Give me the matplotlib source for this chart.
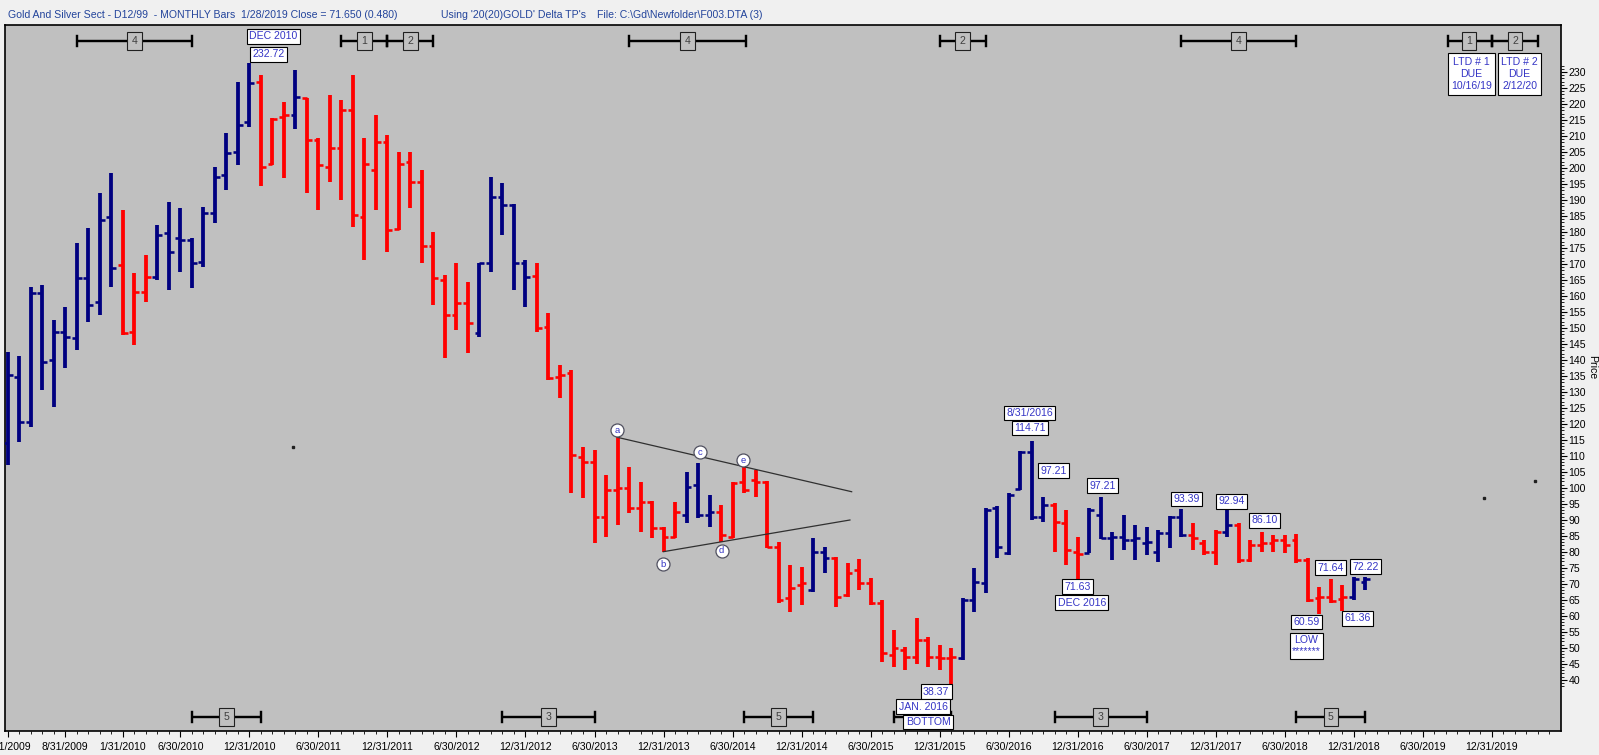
import matplotlib
matplotlib.use("Agg")
import matplotlib.pyplot as plt
import matplotlib.transforms as mtransforms
from matplotlib import font_manager

_names = {f.name for f in font_manager.fontManager.ttflist}
FONT = "Liberation Sans Narrow" if "Liberation Sans Narrow" in _names else "Liberation Sans"
NARROW = FONT == "Liberation Sans Narrow"
plt.rcParams["font.family"] = [FONT, "DejaVu Sans"]
FS = 8.5 if NARROW else 7.6

# ---------------- data (monthly bars, first bar = March 2009) ----------------
opens = [113.9, 134.8, 120.7, 160.8, 140.0, 148.8, 146.8, 165.5, 158.2, 184.8,
         169.7, 148.8, 161.3, 166.0, 179.6, 178.0, 177.5, 170.7, 185.8, 197.8,
         205.1, 214.5, 227.0, 201.4, 215.8, 216.6, 221.8, 208.7, 200.4, 206.2,
         218.1, 184.8, 199.4, 208.2, 180.8, 202.0, 195.7, 175.6, 165.0, 154.0,
         157.7, 148.3, 170.2, 191.0, 188.4, 170.2, 166.2, 150.4, 134.8, 135.8,
         109.8, 108.2, 91.0, 99.3, 100.0, 93.6, 95.7, 87.4, 84.75, 91.5,
         100.9, 91.5, 92.6, 84.75, 101.9, 102.5, 101.9, 81.6, 65.5, 69.6,
         68.1, 80.1, 78.0, 66.5, 74.3, 70.2, 63.9, 47.8, 49.3, 47.2,
         52.4, 47.2, 46.7, 46.7, 65.0, 70.2, 93.6, 79.5, 99.8, 111.3,
         91.0, 94.6, 88.9, 80.0, 79.7, 91.5, 84.2, 84.7, 83.7, 82.7,
         80.1, 85.8, 91.0, 85.3, 82.7, 80.1, 86.3, 88.4, 77.45, 82.1,
         82.65, 83.7, 83.7, 77.45, 65.5, 66.0, 65.2, 66.0, 70.5]
highs = [142.6, 141.2, 162.9, 163.4, 152.5, 156.6, 176.4, 181.1, 192.1, 198.5,
         186.9, 167.1, 172.8, 182.2, 189.5, 187.4, 178.0, 187.9, 200.4, 210.8,
         227.0, 232.72, 229.1, 215.5, 220.7, 230.6, 222.0, 209.3, 222.8, 221.2,
         229.1, 209.3, 216.6, 210.3, 205.1, 205.1, 199.4, 180.1, 166.5, 170.2,
         164.5, 170.4, 197.1, 195.2, 188.6, 171.2, 170.2, 154.6, 138.4, 136.8,
         112.9, 111.8, 104.0, 115.8, 106.6, 101.9, 96.0, 87.8, 95.7, 105.1,
         107.9, 97.8, 94.6, 101.9, 107.1, 105.6, 102.2, 83.2, 75.9, 75.4,
         84.2, 81.6, 78.3, 76.4, 77.7, 71.7, 65.0, 55.6, 50.4, 59.2,
         53.3, 50.9, 49.8, 65.5, 74.85, 93.6, 94.3, 98.3, 111.6, 114.71,
         97.21, 95.2, 93.1, 84.7, 93.6, 97.21, 86.3, 91.5, 88.4, 87.9,
         86.8, 91.3, 93.39, 88.9, 83.7, 86.8, 92.94, 88.9, 83.7, 86.10,
         85.3, 85.3, 85.6, 77.97, 69.1, 71.64, 69.6, 72.0, 72.22]
lows = [107.2, 114.4, 119.1, 130.6, 125.4, 137.4, 143.1, 152.0, 154.0, 162.9,
        147.8, 144.7, 158.2, 165.0, 161.9, 167.6, 162.4, 169.1, 182.7, 193.1,
        200.9, 212.9, 194.4, 200.9, 196.8, 212.1, 192.1, 186.9, 195.7, 190.0,
        181.7, 171.2, 186.9, 173.8, 180.6, 187.4, 170.2, 157.2, 140.5, 149.4,
        142.1, 147.3, 167.6, 179.0, 161.9, 156.6, 148.8, 133.7, 128.0, 98.3,
        96.7, 82.7, 84.75, 88.4, 92.0, 86.3, 84.2, 80.1, 84.2, 88.9,
        90.5, 87.9, 83.2, 84.2, 98.3, 97.3, 81.1, 63.9, 61.3, 63.4,
        67.6, 73.3, 62.9, 66.0, 68.1, 63.4, 45.7, 44.1, 43.1, 45.1,
        44.1, 43.1, 38.37, 46.2, 61.3, 67.0, 78.0, 79.0, 99.3, 89.95,
        89.4, 80.1, 75.9, 71.63, 79.5, 83.9, 77.5, 80.6, 77.5, 79.0,
        76.9, 81.1, 84.7, 80.6, 79.0, 75.9, 84.7, 76.4, 76.9, 80.1,
        80.1, 79.5, 76.4, 64.4, 60.59, 63.9, 61.36, 65.0, 68.1]
closes = [135.3, 120.7, 160.8, 139.5, 148.8, 147.3, 165.5, 157.2, 183.7, 168.6,
          148.3, 161.3, 166.0, 179.0, 173.8, 177.5, 170.2, 185.8, 197.3, 204.6,
          213.4, 226.5, 200.4, 215.2, 216.6, 222.3, 208.7, 200.9, 206.2, 218.1,
          185.3, 201.4, 208.2, 180.6, 201.4, 195.7, 175.6, 165.5, 154.0, 157.7,
          151.4, 170.2, 191.0, 188.4, 170.2, 166.0, 149.9, 134.2, 135.3, 110.3,
          108.2, 91.0, 99.3, 100.0, 93.6, 95.7, 87.4, 84.75, 92.6, 100.4,
          91.5, 92.6, 85.3, 101.5, 99.3, 101.9, 81.6, 65.0, 68.6, 70.2,
          80.1, 78.0, 66.0, 73.3, 70.2, 63.9, 48.3, 49.8, 47.2, 52.4,
          47.2, 46.7, 47.0, 65.0, 70.7, 93.1, 81.6, 97.8, 111.3, 91.0,
          94.6, 89.4, 80.6, 79.3, 93.1, 84.2, 84.7, 83.7, 84.2, 83.2,
          85.8, 91.0, 85.3, 84.2, 80.1, 86.3, 88.4, 77.45, 82.1, 82.65,
          83.7, 82.1, 77.45, 64.95, 66.0, 64.7, 66.0, 71.5, 71.65]
# B = blue (up-trend) bar, R = red (down-trend) bar
trend = list("BBBBBBBBBBRRRBBBBBBBBBRRRBRRRRRRRRRRRRRRRBBBBBRRRRRRRRRRRRRBBB"
             "RRRRRRRRBBRRRRRRRRRRRBBBBBBBBRRRBBBBBBBBBRRRBRRRRRRRRRRBB")

x_tick_months = [0, 5, 10, 15, 21, 27, 33, 39, 45, 51, 57, 63, 69, 75, 81, 87,
                 93, 99, 105, 111, 117, 123, 129]
x_tick_labels = ["3/31/2009", "8/31/2009", "1/31/2010", "6/30/2010", "12/31/2010",
                 "6/30/2011", "12/31/2011", "6/30/2012", "12/31/2012", "6/30/2013",
                 "12/31/2013", "6/30/2014", "12/31/2014", "6/30/2015", "12/31/2015",
                 "6/30/2016", "12/31/2016", "6/30/2017", "12/31/2017", "6/30/2018",
                 "12/31/2018", "6/30/2019", "12/31/2019"]
price_ticks = list(range(40, 231, 5))

title_main = "Gold And Silver Sect - D12/99  - MONTHLY Bars  1/28/2019 Close = 71.650 (0.480)"
title_using = "Using '20(20)GOLD' Delta TP's"
title_file = "File: C:\\Gd\\Newfolder\\F003.DTA (3)"

# price labels: (text, bar month, price, offset px x, offset px y)
price_labels = [("DEC 2010", 21, 232.72, 24, -27), ("232.72", 21, 232.72, 19, -9),
                ("8/31/2016", 89, 114.71, -2, -28), ("114.71", 89, 114.71, -2, -13),
                ("97.21", 90, 97.21, 10, -26), ("97.21", 95, 97.21, 2, -11),
                ("93.39", 102, 93.39, 5, -10), ("92.94", 106, 92.94, 4, -9),
                ("86.10", 109, 86.10, 3, -12), ("71.63", 93, 71.63, 0, 8),
                ("DEC 2016", 93, 71.63, 4, 24), ("38.37", 82, 38.37, -15, 6.5),
                ("JAN. 2016", 82, 38.37, -28, 21.5), ("BOTTOM", 82, 38.37, -23, 37),
                ("60.59", 114, 60.59, -13, 8), ("LOW\n*******", 114, 60.59, -13, 32),
                ("71.64", 115, 71.64, 0, -11), ("61.36", 116, 61.36, 15, 7),
                ("72.22", 118, 72.22, 0, -10)]

# cycle brackets: (start month, end month, box month, number)
top_cycles = [(6, 16, 11, "4"), (29, 33, 31, "1"), (33, 37, 35, "2"),
              (54, 64.2, 59.1, "4"), (81, 85, 83, "2"), (102, 112, 107, "4"),
              (125.2, 129, 127, "1"), (129, 133, 131, "2")]
bottom_cycles = [(16, 22, 19, "5"), (43, 51, 47, "3"), (64, 70, 67, "5"),
                 (77, 82, None, ""), (91, 99, 95, "3"), (112, 118, 115, "5")]
ltd_notes = [(127.2, "LTD # 1\nDUE\n10/16/19"), (131.4, "LTD # 2\nDUE\n2/12/20")]

# triangle (a-b-c-d-e)
tri_upper = ([52.98, 73.35], [115.81, 98.80])
tri_lower = ([56.98, 73.2], [80.05, 89.96])
tri_points = [("a", 52.98, 118.0), ("b", 56.98, 76.1), ("c", 60.2, 111.1),
              ("d", 62.05, 80.3), ("e", 63.93, 108.6)]
stray_marks = [(24.8, 112.9), (132.7, 102.2), (128.3, 96.9)]

# ---------------- drawing ----------------
W, H = 1599, 755
fig = plt.figure(figsize=(W / 100, H / 100), dpi=100, facecolor="#F0F0F0")
ax = fig.add_axes([5 / W, (H - 731) / H, 1556 / W, 706 / H])
ax.set_facecolor("#C0C0C0")
ax.set_xlim(-0.235, 135.0)
ax.set_ylim(24.0, 244.7)

PX = 0.72  # points per pixel at dpi 100
col = {"B": "#000080", "R": "#FF0000"}
n = len(highs)
for i in range(n):
    c = col[trend[i]]
    ax.vlines(i, lows[i], highs[i], color=c, lw=3.8 * PX, zorder=3)
    ax.hlines(opens[i], i - 0.42, i, color=c, lw=2.6 * PX, zorder=3)
    ax.hlines(closes[i], i, i + 0.42, color=c, lw=2.6 * PX, zorder=3)

# triangle
ax.plot(*tri_upper, color="#303030", lw=0.9, zorder=4)
ax.plot(*tri_lower, color="#303030", lw=0.9, zorder=4)
for lab, tx, ty in tri_points:
    ax.plot(tx, ty, "o", ms=13 * PX, mfc="white", mec="#505060", mew=0.9, zorder=5)
    ax.text(tx, ty, lab, ha="center", va="center", fontsize=6.8, color="#3535C5", zorder=6)
for sx, sy in stray_marks:
    ax.plot(sx, sy, "s", ms=1.6, color="#202020", zorder=3)

# price labels
for txt, bi, pr, dx, dy in price_labels:
    ax.annotate(txt, xy=(bi, pr), xytext=(dx * PX, -dy * PX), textcoords="offset points",
                ha="center", va="center", fontsize=FS, color="#3535C5", zorder=8,
                linespacing=1.15,
                bbox=dict(boxstyle="square,pad=0.22", fc="white", ec="black", lw=0.8))

# cycle brackets
blend = mtransforms.blended_transform_factory(ax.transData, ax.transAxes)
cap = 5 / 706

def draw_cycles(cycles, yf):
    for x0, x1, xb, lab in cycles:
        ax.plot([x0, x1], [yf, yf], color="black", lw=2.4 * PX, transform=blend,
                zorder=2, solid_capstyle="butt")
        for xc in (x0, x1):
            ax.plot([xc, xc], [yf - cap, yf + cap], color="black", lw=2.4 * PX,
                    transform=blend, zorder=2)
        if xb is not None:
            ax.text(xb, yf, lab, transform=blend, ha="center", va="center", fontsize=FS,
                    color="#404040", zorder=2.5,
                    bbox=dict(boxstyle="square,pad=0.42", fc="#C0C0C0", ec="#202020", lw=0.8))

draw_cycles(top_cycles, (731 - 41) / 706)
draw_cycles(bottom_cycles, (731 - 717) / 706)

for xl, txt in ltd_notes:
    ax.text(xl, (731 - 74) / 706, txt, transform=blend, ha="center", va="center",
            fontsize=FS, color="#3535C5", linespacing=1.3, zorder=8,
            bbox=dict(boxstyle="square,pad=0.3", fc="white", ec="black", lw=0.8))

# axes styling
for s in ax.spines.values():
    s.set_color("black")
    s.set_linewidth(1.2)
ax.yaxis.tick_right()
ax.set_yticks(price_ticks)
ax.set_yticks(list(range(38, 233)), minor=True)
ax.tick_params(axis="y", which="major", direction="out", length=4, width=0.8,
               labelsize=FS, pad=1.5, colors="black")
ax.tick_params(axis="y", which="minor", direction="out", length=2, width=0.6)
ax.set_xticks(x_tick_months)
ax.set_xticklabels(x_tick_labels)
ax.set_xticks(list(range(0, 135)), minor=True)
ax.tick_params(axis="x", which="major", direction="out", length=4, width=0.8,
               labelsize=FS, pad=4, colors="black")
ax.tick_params(axis="x", which="minor", direction="out", length=2.5, width=0.6)

fig.text(1592 / W, 1 - 367 / H, "Price", rotation=270, ha="center", va="center",
         fontsize=FS, color="black")

ty = 1 - 14.5 / H
fig.text(8 / W, ty, title_main, ha="left", va="center", fontsize=FS, color="#23449B")
fig.text(441 / W, ty, title_using, ha="left", va="center", fontsize=FS, color="#23449B")
fig.text(597 / W, ty, title_file, ha="left", va="center", fontsize=FS, color="#23449B")

fig.savefig("out.png", dpi=100, facecolor=fig.get_facecolor())
